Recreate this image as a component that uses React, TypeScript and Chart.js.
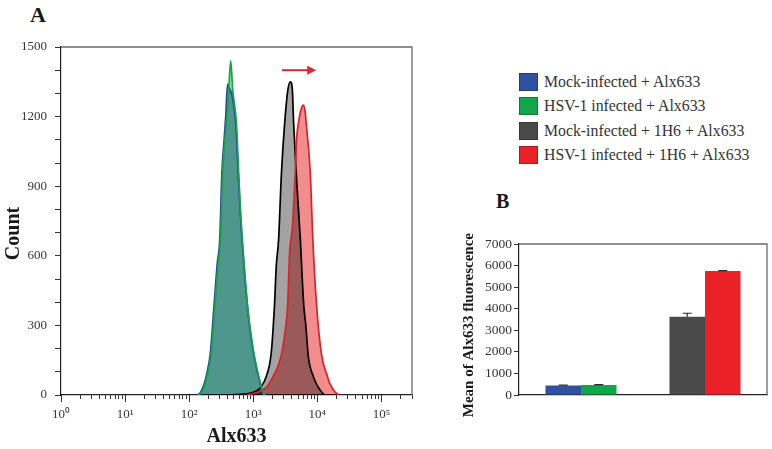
import React, { useEffect, useRef } from 'react';
import { Chart, registerables } from 'chart.js';
Chart.register(...registerables);

const SERIF = '"Liberation Serif", "Times New Roman", serif';

// ---- Panel A: histogram data (Alx633 intensity, count) ----
const blueX = [135, 151, 170, 191, 214, 245, 275, 300, 324, 351, 372, 398, 427, 468, 537, 582, 624, 668, 733, 813, 902, 1035, 1135, 1245, 1334, 1429, 1531];
const blueY = [0, 12, 45, 100, 180, 390, 570, 668, 957, 1100, 1200, 1340, 1320, 1290, 1160, 957, 800, 668, 520, 380, 270, 164, 110, 65, 30, 5, 0];
const greenX = [138, 155, 174, 195, 219, 251, 282, 308, 333, 355, 381, 414, 445, 478, 546, 593, 631, 676, 741, 818, 912, 1047, 1148, 1259, 1349, 1445, 1549];
const greenY = [0, 10, 40, 95, 170, 380, 560, 668, 957, 1080, 1172, 1315, 1440, 1315, 1172, 957, 800, 668, 520, 380, 270, 164, 110, 65, 30, 5, 0];
const grayX = [355, 794, 1072, 1318, 1585, 1905, 2138, 2291, 2483, 2754, 3090, 3467, 3802, 4074, 4266, 4677, 5433, 5821, 6166, 6607, 7244, 8710, 10000, 11482, 12882];
const grayY = [0, 5, 15, 35, 78, 180, 380, 560, 668, 957, 1172, 1315, 1350, 1315, 1172, 957, 668, 500, 380, 300, 164, 78, 40, 15, 0];
const redX = [794, 1259, 1622, 1995, 2399, 2754, 3162, 3436, 3690, 4074, 4519, 4742, 5129, 5623, 6095, 6457, 6699, 7762, 8511, 9772, 11614, 14454, 15488, 18621, 21380];
const redY = [0, 15, 35, 75, 120, 175, 280, 380, 612, 720, 957, 1100, 1180, 1235, 1250, 1220, 1172, 957, 668, 380, 175, 78, 52, 15, 0];

const decadeValues = [1, 10, 100, 1000, 10000, 100000];
const decadeLabels = ['10⁰', '10¹', '10²', '10³', '10⁴', '10⁵'];
const minorMultipliers = [1, 2, 3, 4, 5, 6, 7, 8, 9];
const xMax = 300000;
const countLabelStep = 300;
const arrowStart = 2800;
const arrowEnd = 9600;
const arrowLevel = 1400;

// ---- Panel B: bar data ----
const barCategories = ['Alx633', '1H6 + Alx633'];
const mockMeans = [440, 3630];
const mockErr = [15, 160];
const hsvMeans = [465, 5745];
const hsvErr = [20, 25];

// ---- Legend ----
const legendLabels = ['Mock-infected + Alx633', 'HSV-1 infected + Alx633', 'Mock-infected + 1H6 + Alx633', 'HSV-1 infected + 1H6 + Alx633'];
const legendColors = ['#3050a0', '#12a64a', '#4a4a4a', '#ec2128'];

const toPoints = (xs: number[], ys: number[]) => xs.map((x, i) => ({ x, y: ys[i] }));

const frameColor = '#6a6a6a';

const framePlugin = {
  id: 'frame',
  afterDraw(chart: any) {
    const { ctx, chartArea } = chart;
    ctx.save();
    ctx.strokeStyle = frameColor;
    ctx.lineWidth = 1.3;
    ctx.beginPath();
    ctx.moveTo(chartArea.left, chartArea.top);
    ctx.lineTo(chartArea.right, chartArea.top);
    ctx.lineTo(chartArea.right, chartArea.bottom);
    ctx.stroke();
    ctx.restore();
  },
};

function HistogramChart() {
  const ref = useRef<HTMLCanvasElement | null>(null);
  useEffect(() => {
    if (!ref.current) return;
    // fills are blended with "multiply" (like overlaid flow-cytometry histograms); outlines drawn normally
    const blendPlugin = {
      id: 'blend',
      beforeDraw(chart: any) {
        chart.ctx.globalCompositeOperation = 'multiply';
      },
      beforeDatasetDraw(chart: any) {
        chart.ctx.globalCompositeOperation = 'source-over';
      },
      afterDatasetsDraw(chart: any) {
        chart.ctx.globalCompositeOperation = 'source-over';
      },
    };
    const extrasPlugin = {
      id: 'extras',
      afterDraw(chart: any) {
        const { ctx, chartArea, scales } = chart;
        const x = scales.x;
        const y = scales.y;
        ctx.save();
        ctx.strokeStyle = '#333';
        ctx.lineWidth = 1;
        decadeValues.forEach((d) => {
          const px = Math.round(x.getPixelForValue(d)) + 0.5;
          ctx.beginPath();
          ctx.moveTo(px, chartArea.bottom);
          ctx.lineTo(px, chartArea.bottom + 7);
          ctx.stroke();
        });
        const xs = x.getPixelForValue(arrowStart);
        const xe = x.getPixelForValue(arrowEnd);
        const ya = y.getPixelForValue(arrowLevel);
        ctx.strokeStyle = '#dc2830';
        ctx.fillStyle = '#dc2830';
        ctx.lineWidth = 2;
        ctx.beginPath();
        ctx.moveTo(xs, ya);
        ctx.lineTo(xe - 8, ya);
        ctx.stroke();
        ctx.beginPath();
        ctx.moveTo(xe, ya);
        ctx.lineTo(xe - 9, ya - 4.5);
        ctx.lineTo(xe - 9, ya + 4.5);
        ctx.closePath();
        ctx.fill();
        ctx.restore();
      },
    };
    const common = { pointRadius: 0, borderWidth: 1.7, tension: 0.3, cubicInterpolationMode: 'monotone', fill: 'origin' };
    const chart = new Chart(ref.current, {
      type: 'line',
      data: {
        datasets: [
          { ...common, label: legendLabels[1], data: toPoints(greenX, greenY), borderColor: '#17a34a', backgroundColor: '#a0e19b' },
          { ...common, label: legendLabels[0], data: toPoints(blueX, blueY), borderColor: '#2b3f9e', backgroundColor: '#7eaae6' },
          { ...common, label: legendLabels[3], data: toPoints(redX, redY), borderColor: '#d9232b', backgroundColor: '#f38c8c' },
          { ...common, label: legendLabels[2], data: toPoints(grayX, grayY), borderColor: '#000000', backgroundColor: '#a3a3a3' },
        ] as any,
      },
      options: {
        animation: false,
        responsive: false,
        maintainAspectRatio: false,
        layout: { padding: { top: 47, right: 7, left: 0, bottom: 0 } },
        plugins: { legend: { display: false }, tooltip: { enabled: false }, filler: { drawTime: 'beforeDatasetsDraw' } },
        scales: {
          x: {
            type: 'logarithmic',
            min: 1,
            max: xMax,
            afterBuildTicks: (s: any) => {
              const t: any[] = [];
              decadeValues.forEach((d) => minorMultipliers.forEach((m) => { if (d * m <= xMax) t.push({ value: d * m }); }));
              s.ticks = t;
            },
            afterFit: (s: any) => { s.height = 54; },
            grid: { drawOnChartArea: false, drawTicks: true, tickLength: 4, color: '#333' },
            border: { display: true, color: '#222', width: 1.2 },
            ticks: {
              autoSkip: false,
              maxRotation: 0,
              minRotation: 0,
              padding: 8,
              color: '#333',
              font: { family: SERIF, size: 13 },
              callback: (v: any) => {
                const i = decadeValues.indexOf(Number(v));
                return i >= 0 ? decadeLabels[i] : '';
              },
            },
            title: { display: true, text: 'Alx633', color: '#1a1a1a', font: { family: SERIF, size: 20, weight: 'bold' }, padding: { top: 0, bottom: 0 } },
          },
          y: {
            min: 0,
            max: 1500,
            afterFit: (s: any) => { s.width = 61; },
            grid: { drawOnChartArea: false, drawTicks: true, tickLength: 6, color: '#333' },
            border: { display: true, color: '#222', width: 1.2 },
            ticks: {
              stepSize: 100,
              padding: 8,
              color: '#333',
              font: { family: SERIF, size: 13 },
              callback: (v: any) => (Number(v) % countLabelStep === 0 ? String(v) : ''),
            },
            title: { display: true, text: 'Count     ', color: '#1a1a1a', font: { family: SERIF, size: 20, weight: 'bold' }, padding: { top: 2, bottom: 0 } },
          },
        },
      } as any,
      plugins: [blendPlugin, framePlugin, extrasPlugin],
    });
    return () => chart.destroy();
  }, []);
  return <canvas ref={ref} width={420} height={449} style={{ position: 'absolute', left: 0, top: 0, width: 420, height: 449 }} />;
}

function BarChart() {
  const ref = useRef<HTMLCanvasElement | null>(null);
  useEffect(() => {
    if (!ref.current) return;
    const errs = [mockErr, hsvErr];
    const errorPlugin = {
      id: 'errorbars',
      afterDatasetsDraw(chart: any) {
        const { ctx, scales } = chart;
        ctx.save();
        ctx.strokeStyle = '#2a2a2a';
        ctx.lineWidth = 1.2;
        chart.data.datasets.forEach((ds: any, di: number) => {
          const meta = chart.getDatasetMeta(di);
          meta.data.forEach((bar: any, j: number) => {
            const v = ds.data[j];
            const top = scales.y.getPixelForValue(v + errs[di][j]);
            ctx.beginPath();
            ctx.moveTo(bar.x, bar.y);
            ctx.lineTo(bar.x, top);
            ctx.moveTo(bar.x - 4.5, top);
            ctx.lineTo(bar.x + 4.5, top);
            ctx.stroke();
          });
        });
        ctx.restore();
      },
    };
    const chart = new Chart(ref.current, {
      type: 'bar',
      data: {
        labels: barCategories,
        datasets: [
          { label: 'Mock-infected', data: mockMeans, backgroundColor: [legendColors[0], legendColors[2]], borderWidth: 0 },
          { label: 'HSV-1 infected', data: hsvMeans, backgroundColor: [legendColors[1], legendColors[3]], borderWidth: 0 },
        ],
      },
      options: {
        animation: false,
        responsive: false,
        maintainAspectRatio: false,
        layout: { padding: { top: 14, right: 5, left: 0, bottom: 0 } },
        plugins: { legend: { display: false }, tooltip: { enabled: false } },
        datasets: { bar: { barPercentage: 1, categoryPercentage: 0.573 } },
        scales: {
          x: {
            afterFit: (s: any) => { s.height = 54; },
            grid: { display: false },
            ticks: { display: false },
            border: { display: true, color: '#222', width: 1.2 },
          },
          y: {
            min: 0,
            max: 7000,
            afterFit: (s: any) => { s.width = 64; },
            grid: { drawOnChartArea: false, drawTicks: true, tickLength: 5, color: '#333' },
            border: { display: true, color: '#222', width: 1.2 },
            ticks: { stepSize: 1000, padding: 2, color: '#333', font: { family: SERIF, size: 13.5 }, callback: (v: any) => String(v) },
            title: { display: true, text: 'Mean of Alx633 fluorescence   ', color: '#1a1a1a', font: { family: SERIF, size: 15, weight: 'bold' }, padding: { top: 5, bottom: 0 } },
          },
        },
      } as any,
      plugins: [framePlugin, errorPlugin],
    });
    return () => chart.destroy();
  }, []);
  return <canvas ref={ref} width={317} height={219} style={{ position: 'absolute', left: 455, top: 230, width: 317, height: 219 }} />;
}

function Legend() {
  return (
    <div style={{ position: 'absolute', left: 519, top: 70, fontFamily: SERIF, fontSize: 15.8, color: '#333' }}>
      {legendLabels.map((l, i) => (
        <div key={l} style={{ display: 'flex', alignItems: 'center', height: 24.3, whiteSpace: 'nowrap' }}>
          <div style={{ width: 19, height: 18, background: legendColors[i], boxSizing: 'border-box', border: '1px solid rgba(0,0,0,0.25)', marginRight: 6 }} />
          <span>{l}</span>
        </div>
      ))}
    </div>
  );
}

export default function App() {
  return (
    <div style={{ position: 'absolute', left: 0, top: 0, width: 772, height: 449, background: '#fff', overflow: 'hidden' }}>
      <div style={{ position: 'absolute', left: 30, top: 4, fontFamily: SERIF, fontWeight: 'bold', fontSize: 22, lineHeight: 1, color: '#1a1a1a' }}>A</div>
      <div style={{ position: 'absolute', left: 496, top: 191, fontFamily: SERIF, fontWeight: 'bold', fontSize: 20, lineHeight: 1, color: '#1a1a1a' }}>B</div>
      <HistogramChart />
      <BarChart />
      <Legend />
    </div>
  );
}
